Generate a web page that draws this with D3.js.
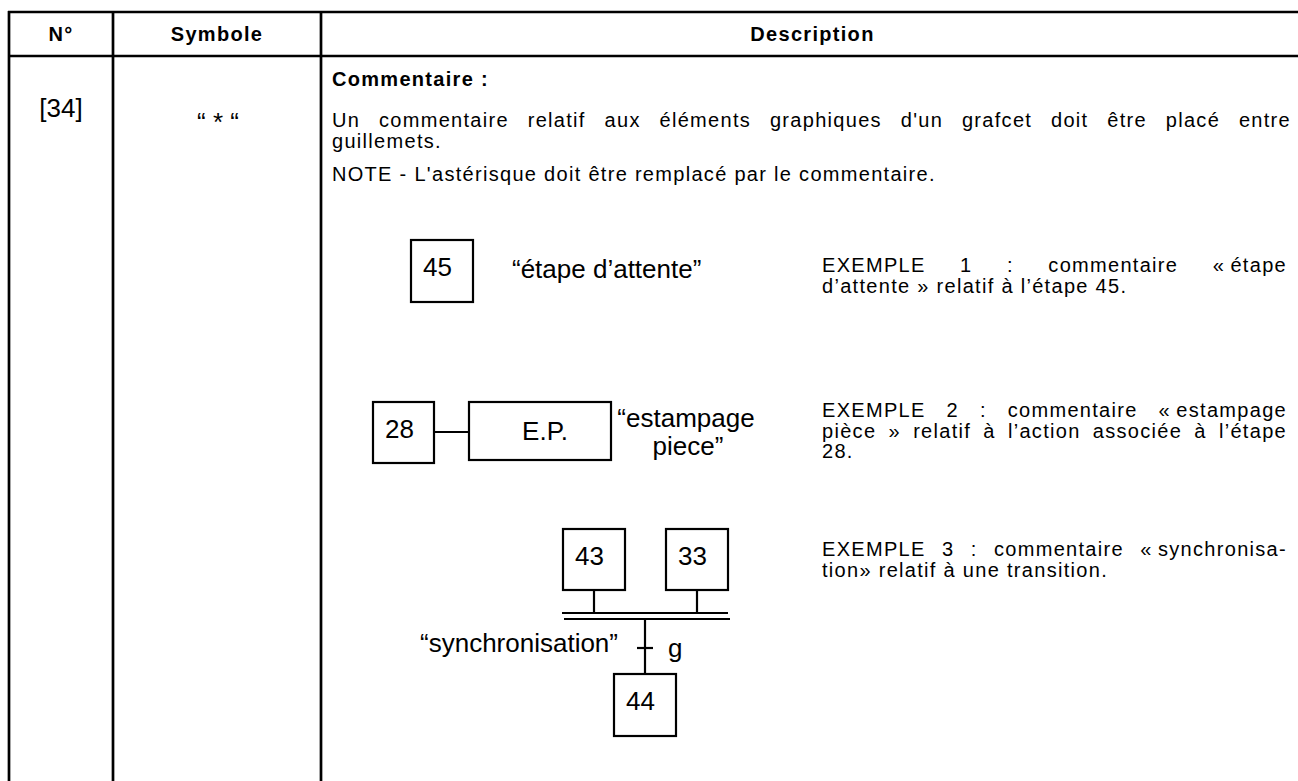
<!DOCTYPE html>
<html><head><meta charset="utf-8">
<script src="https://cdn.jsdelivr.net/npm/d3@7"></script>
<style>
html,body{margin:0;padding:0;background:#fff;}
svg{display:block;}
text{font-family:"Liberation Sans",Arial,Helvetica,sans-serif;fill:#000;}
.hdr{font-size:20px;font-weight:bold;letter-spacing:1.3px;}
.body{font-size:20px;letter-spacing:1.3px;}
.bodyb{font-size:20px;font-weight:bold;letter-spacing:1.3px;}
.big{font-size:26px;}
.lbl{font-size:26px;}
</style></head><body>
<script>
// ---- data ----
const headerLabels = ["N°", "Symbole", "Description"];
const rowNumber = "[34]";
const rowSymbol = "“ * “";
const descTitle = "Commentaire :";
const descLines = [
  "Un commentaire relatif aux éléments graphiques d'un grafcet doit être placé entre",
  "guillemets."
];
const descNote = "NOTE - L'astérisque doit être remplacé par le commentaire.";
const example1Lines = ["EXEMPLE 1 : commentaire «\u202Fétape", "d’attente » relatif à l’étape 45."];
const example2Lines = ["EXEMPLE 2 : commentaire «\u202Festampage", "pièce » relatif à l’action associée à l’étape", "28."];
const example3Lines = ["EXEMPLE 3 : commentaire «\u202Fsynchronisa-", "tion» relatif à une transition."];
const stepLabels = ["45", "28", "43", "33", "44"];
const actionLabel = "E.P.";
const comment1 = "“étape d’attente”";
const comment2Lines = ["“estampage", "piece”"];
const comment3 = "“synchronisation”";
const transitionLabel = "g";

// ---- drawing ----
const W = 1298, H = 781;
const svg = d3.select("body").append("svg").attr("width", W).attr("height", H);
svg.append("rect").attr("width", W).attr("height", H).attr("fill", "#fff");

// column boundaries
const colX = d3.scaleOrdinal().domain(headerLabels).range([9, 113, 321]);
const colRight = [113, 321, W];
const rowY = { top: 12, hdrBottom: 56 };

// table lines
const tbl = svg.append("g").attr("stroke", "#000").attr("fill", "none");
[rowY.top, rowY.hdrBottom].forEach(y => {
  tbl.append("line").attr("x1", 8).attr("x2", W).attr("y1", y).attr("y2", y).attr("stroke-width", 2.3);
});
headerLabels.forEach(h => {
  tbl.append("line").attr("x1", colX(h)).attr("x2", colX(h)).attr("y1", rowY.top - 1).attr("y2", H).attr("stroke-width", 2.7);
});

// header labels
headerLabels.forEach((h, i) => {
  svg.append("text").attr("class", "hdr").attr("text-anchor", "middle")
    .attr("x", (colX(h) + colRight[i]) / 2 + (i === 2 ? 3 : 0)).attr("y", 41).text(h);
});

// row number & symbol
svg.append("text").attr("class", "big").attr("text-anchor", "middle").attr("x", 61).attr("y", 117).text(rowNumber);
svg.append("text").attr("class", "big").attr("text-anchor", "middle").attr("x", 218).attr("y", 131).text(rowSymbol);

// text helpers
function measure(str, cls) {
  const t = svg.append("text").attr("class", cls).text(str);
  const w = t.node().getComputedTextLength();
  t.remove();
  return w;
}
function textLine(str, x0, x1, y, cls, justify) {
  const words = str.split(" ");
  const widths = words.map(w => measure(w, cls));
  const spaceW = measure("a a", cls) - measure("aa", cls);
  const total = d3.sum(widths);
  const gap = (justify && words.length > 1) ? (x1 - x0 - total) / (words.length - 1) : spaceW;
  const t = svg.append("text").attr("class", cls).attr("y", y);
  let x = x0;
  words.forEach((w, i) => { t.append("tspan").attr("x", x).text(w); x += widths[i] + gap; });
}

// description
const dx0 = 332, dx1 = 1291;
svg.append("text").attr("class", "bodyb").attr("x", dx0).attr("y", 86).text(descTitle);
textLine(descLines[0], dx0, dx1, 127, "body", true);
textLine(descLines[1], dx0, dx1, 148, "body", false);
textLine(descNote, dx0, dx1, 181, "body", false);

// examples text
const ex0 = 822, ex1 = 1287, exPitch = 20.5;
function exampleBlock(lines, y0) {
  lines.forEach((l, i) => textLine(l, ex0, ex1, y0 + i * exPitch, "body", i < lines.length - 1));
}
exampleBlock(example1Lines, 272);
exampleBlock(example2Lines, 417);
exampleBlock(example3Lines, 556);

// diagram helpers
const dg = svg.append("g").attr("stroke", "#000").attr("stroke-width", 2.2).attr("fill", "none");
function step(x, y, label, w = 62, h = 62) {
  dg.append("rect").attr("x", x).attr("y", y).attr("width", w).attr("height", h).attr("fill", "#fff");
  svg.append("text").attr("class", "lbl").attr("x", x + 12).attr("y", y + 36).text(label);
}
function seg(x1, y1, x2, y2) {
  dg.append("line").attr("x1", x1).attr("y1", y1).attr("x2", x2).attr("y2", y2);
}

// Example 1
step(411, 240, stepLabels[0]);
svg.append("text").attr("class", "lbl").attr("x", 512).attr("y", 278).text(comment1);

// Example 2
step(373, 402, stepLabels[1], 61, 61);
seg(434, 432, 469, 432);
dg.append("rect").attr("x", 469).attr("y", 402).attr("width", 142).attr("height", 58);
svg.append("text").attr("class", "lbl").attr("text-anchor", "middle").attr("x", 545).attr("y", 440).text(actionLabel);
svg.append("text").attr("class", "lbl").attr("text-anchor", "middle").attr("x", 686).attr("y", 427).text(comment2Lines[0]);
svg.append("text").attr("class", "lbl").attr("text-anchor", "middle").attr("x", 688).attr("y", 455).text(comment2Lines[1]);

// Example 3
step(563, 529, stepLabels[2], 62, 61);
step(666, 529, stepLabels[3], 62, 61);
seg(594, 590, 594, 613);
seg(697, 590, 697, 613);
seg(562, 613, 728, 613);
seg(564, 619, 730, 619);
seg(645, 619, 645, 674);
seg(637, 648, 653, 648);
step(614, 674, stepLabels[4]);
svg.append("text").attr("class", "lbl").attr("x", 668).attr("y", 657).text(transitionLabel);
svg.append("text").attr("class", "lbl").attr("text-anchor", "end").attr("x", 618).attr("y", 652).text(comment3);
</script>
</body></html>
